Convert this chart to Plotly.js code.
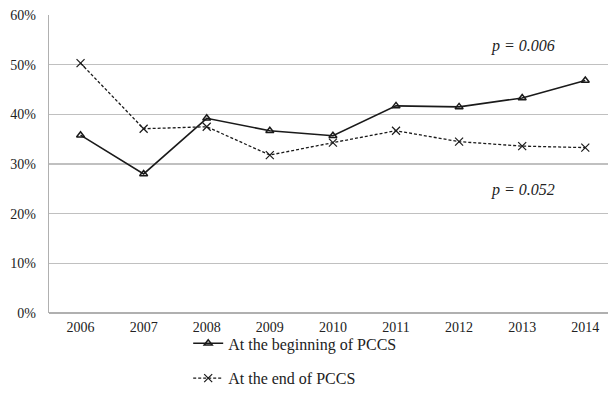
<!DOCTYPE html>
<html>
<head>
<meta charset="utf-8">
<script src="https://cdn.plot.ly/plotly-3.0.1.min.js"></script>
<style>html,body{margin:0;padding:0;background:#fff;}#chart{width:608px;height:412px;}</style>
</head>
<body>
<div id="chart"></div>
<script>
const years = ['2006','2007','2008','2009','2010','2011','2012','2013','2014'];
const beginning = [35.8, 28.0, 39.2, 36.7, 35.7, 41.7, 41.5, 43.3, 46.8];
const ending = [50.3, 37.1, 37.5, 31.8, 34.3, 36.7, 34.5, 33.6, 33.3];
const yTicks = [0, 10, 20, 30, 40, 50, 60];
const yTickLabels = ['0%', '10%', '20%', '30%', '40%', '50%', '60%'];
const seriesNames = ['At the beginning of PCCS', 'At the end of PCCS'];
const pLabels = ['p = 0.006', 'p = 0.052'];

const font = '"Liberation Serif", "Times New Roman", serif';
const traces = [
  {x: years, y: beginning, name: seriesNames[0], type: 'scatter', mode: 'lines+markers',
   legendgroup: 'a',
   line: {color: '#1a1a1a', width: 1.6},
   marker: {symbol: 'triangle-up-open', size: 7, color: '#1a1a1a', line: {width: 1.5}}},
  {x: years, y: ending, name: seriesNames[1], type: 'scatter', mode: 'lines+markers',
   legendgroup: 'b',
   line: {color: '#1a1a1a', width: 1.3, dash: '3px,2px'},
   marker: {symbol: 'x-thin-open', size: 8, color: '#1a1a1a', line: {width: 1.2, color: '#1a1a1a'}}}
];
const layout = {
  width: 608, height: 412,
  margin: {l: 49, r: 0, t: 15, b: 99},
  paper_bgcolor: '#fff', plot_bgcolor: '#fff',
  font: {family: font, size: 14, color: '#222'},
  xaxis: {type: 'category', range: [-0.5, 8.36], showgrid: false, zeroline: false,
          showline: false, ticks: '', ticklabelstandoff: 4, tickfont: {family: font, size: 14, color: '#222'}},
  yaxis: {range: [0, 60], tickvals: yTicks, ticktext: yTickLabels, showgrid: true,
          gridcolor: '#c0c0c0', gridwidth: 1.2, zeroline: true, zerolinecolor: '#b0b0b0', zerolinewidth: 1.2,
          showline: true, linecolor: '#b0b0b0', linewidth: 1.2, ticks: '', ticklabelstandoff: 9,
          tickfont: {family: font, size: 14, color: '#222'}},
  showlegend: true,
  legend: {x: 0.249, y: -0.045, xanchor: 'left', yanchor: 'top', orientation: 'v',
           traceorder: 'grouped', tracegroupgap: 11,
           font: {family: font, size: 16, color: '#222'}, bgcolor: 'rgba(0,0,0,0)'},
  annotations: [
    {xref: 'paper', yref: 'y', x: 0.848, y: 53.8, xanchor: 'center', text: '<i>' + pLabels[0] + '</i>', showarrow: false,
     font: {family: font, size: 16, color: '#222'}},
    {xref: 'paper', yref: 'y', x: 0.848, y: 24.8, xanchor: 'center', text: '<i>' + pLabels[1] + '</i>', showarrow: false,
     font: {family: font, size: 16, color: '#222'}}
  ]
};
Plotly.newPlot('chart', traces, layout, {displayModeBar: false, staticPlot: true});
</script>
</body>
</html>
